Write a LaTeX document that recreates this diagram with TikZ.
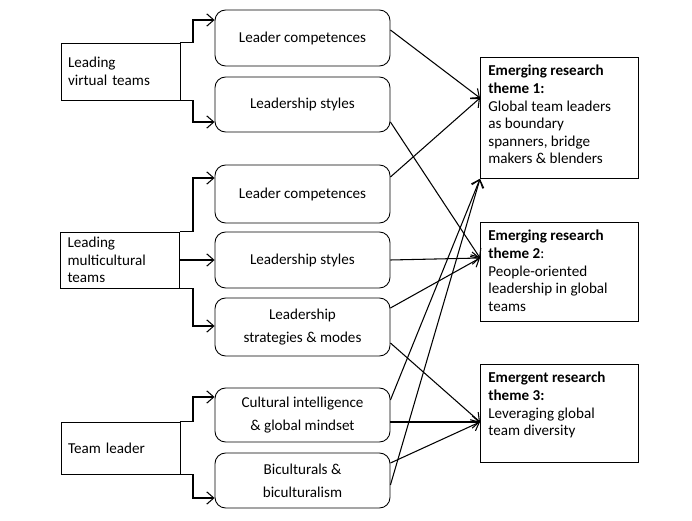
\documentclass[tikz,border=0pt]{standalone}
\usepackage{fontspec}
\setmainfont{Carlito}
\usetikzlibrary{calc,arrows.meta}
\begin{document}
\begin{tikzpicture}[x=0.02cm,y=-0.02cm,
    every node/.style={font=\fontsize{8.6}{10}\selectfont, inner sep=2pt},
    src/.style={draw, line width=0.5pt, minimum width=2.38cm, align=left, text width=2.1cm},
    mid/.style={draw, line width=0.5pt, rounded corners=6pt, minimum width=3.5cm, align=center},
    theme/.style={draw, line width=0.5pt, minimum width=3.16cm, anchor=north west},
    themetext/.style={anchor=north west, align=left, inner sep=0pt},
    arr/.style={-{Straight Barb[length=4pt,width=7pt]}, line width=0.6pt}]
    \useasboundingbox (0,0) rectangle (692,520);

    % source boxes
    \node[src, minimum height=1.14cm] (lvt) at (120.5,71.5) {Leading\\virtual teams};
    \node[src, minimum height=1.12cm] (lmt) at (120,260) {Leading\\multicultural\\teams};
    \node[src, minimum height=1.04cm] (tl) at (120.5,448) {Team leader};

    % middle boxes
    \node[mid, minimum height=1.12cm] (lc1) at (302.5,38) {Leader competences};
    \node[mid, minimum height=1.1cm] (ls1) at (302.5,104.5) {Leadership styles};
    \node[mid, minimum height=1.16cm] (lc2) at (302.5,194) {Leader competences};
    \node[mid, minimum height=1.12cm] (ls2) at (302.5,260) {Leadership styles};
    \node[mid, minimum height=1.16cm] (lsm) at (302.5,327) {Leadership\\[3pt]strategies \& modes};
    \node[mid, minimum height=1.08cm] (ci) at (302.5,415) {Cultural intelligence\\[3pt]\& global mindset};
    \node[mid, minimum height=1.1cm] (bi) at (302.5,480.5) {Biculturals \&\\[3pt]biculturalism};

    % themes
    \node[theme, minimum height=2.42cm] (t1) at (480,57) {};
    \node[theme, minimum height=1.98cm] (t2) at (480,222) {};
    \node[theme, minimum height=1.96cm] (t3) at (480,364) {};
    \node[themetext] (t1txt) at ($(t1.north west)+(8,8)$)
        {\textbf{Emerging research}\\\textbf{theme 1:}\\Global team leaders\\as boundary\\spanners, bridge\\makers \& blenders};
    \node[themetext] (t2txt) at ($(t2.north west)+(8,8)$)
        {\textbf{Emerging research}\\\textbf{theme 2}:\\People-oriented\\leadership in global\\teams};
    \node[themetext] (t3txt) at ($(t3.north west)+(8,8)$)
        {\textbf{Emergent research}\\\textbf{theme 3:}\\Leveraging global\\team diversity};

    % elbow connectors
    \draw[arr] (lvt.north east) -| (193,20) -- (lc1.west |- 0,20);
    \draw[arr] (lvt.south east) -| (193,122) -- (ls1.west |- 0,122);
    \draw[arr] (lmt.north east) -| (193,178) -- (lc2.west |- 0,178);
    \draw[arr] (lmt.east |- ls2) -- (ls2.west);
    \draw[arr] (lmt.south east) -| (193,326) -- (lsm.west |- 0,326);
    \draw[arr] (tl.north east) -| (193,397) -- (ci.west |- 0,397);
    \draw[arr] (tl.south east) -| (193,498) -- (bi.west |- 0,498);

    % links to themes
    \coordinate (t1in) at (t1.west |- 0,98);
    \coordinate (t2in) at (t2.west |- 0,258);
    \coordinate (t3in) at (t3.west |- 0,422);
    \draw[arr] (lc1.east |- 0,30) -- (t1in);
    \draw[arr] (lc2.east |- 0,177) -- (t1in);
    \draw[arr] (ls1.east |- 0,122) -- (t2in);
    \draw[arr] (ls2.east) -- (t2in);
    \draw[arr] (lsm.east |- 0,308) -- (t2in);
    \draw[arr] (lsm.east |- 0,343) -- (t3in);
    \draw[arr] (ci.east |- 0,400) -- (t1.south west);
    \draw[arr] (bi.east |- 0,485) -- (t1.south west);
    \draw[arr] (ci.east |- 0,422) -- (t3in);
    \draw[arr] (bi.east |- 0,463) -- (t3in);
\end{tikzpicture}
\end{document}
